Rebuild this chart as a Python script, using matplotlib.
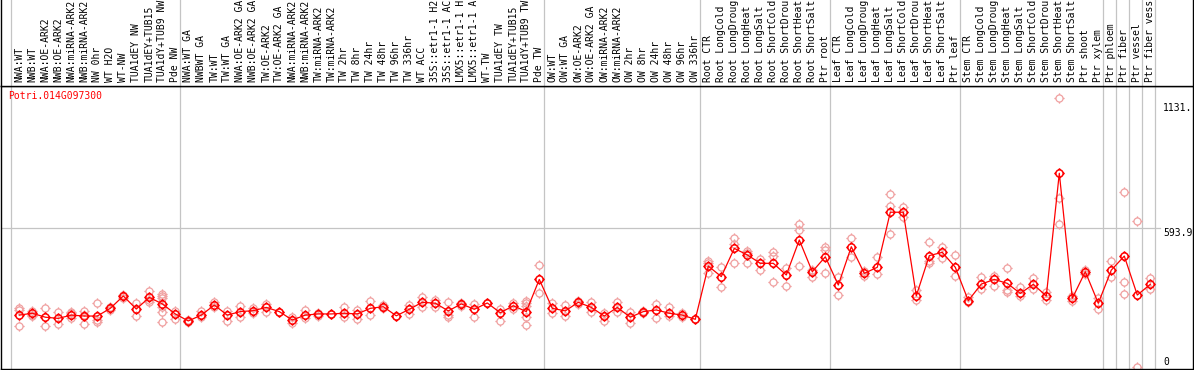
import matplotlib
matplotlib.use("Agg")
import matplotlib.pyplot as plt
from matplotlib.path import Path
import numpy as np

gene = "Potri.014G097300"

# sample names as shown (the source chart cuts them at 14 characters)
samples = [
    "NWA:WT", "NWB:WT", "NWA:OE-ARK2", "NWB:OE-ARK2", "NWA:miRNA-ARK2",
    "NWB:miRNA-ARK2", "NW 0hr", "WT H2O", "WT-NW", "TUA1dEY NW",
    "TUA1dEY+TUB15", "TUA1dY+TUB9 NW", "Pde NW",
    "NWA:WT GA", "NWBWT GA", "TW:WT", "TW:WT GA", "NWA:OE-ARK2 GA",
    "NWB:OE-ARK2 GA", "TW:OE-ARK2", "TW:OE-ARK2 GA", "NWA:miRNA-ARK2",
    "NWB:miRNA-ARK2", "TW:miRNA-ARK2", "TW:miRNA-ARK2", "TW 2hr", "TW 8hr",
    "TW 24hr", "TW 48hr", "TW 96hr", "TW 336hr", "WT ACC", "35S::etr1-1 H2",
    "35S::etr1-1 AC", "LMX5::etr1-1 H", "LMX5::etr1-1 A", "WT-TW",
    "TUA1dEY TW", "TUA1dEY+TUB15", "TUA1dY+TUB9 TW", "Pde TW",
    "OW:WT", "OW:WT GA", "OW:OE-ARK2", "OW:OE-ARK2 GA", "OW:miRNA-ARK2",
    "OW:miRNA-ARK2", "OW 2hr", "OW 8hr", "OW 24hr", "OW 48hr", "OW 96hr",
    "OW 336hr",
    "Root CTR", "Root LongCold", "Root LongDroug", "Root LongHeat",
    "Root LongSalt", "Root ShortCold", "Root ShortDrou", "Root ShortHeat",
    "Root ShortSalt", "Ptr root",
    "Leaf CTR", "Leaf LongCold", "Leaf LongDroug", "Leaf LongHeat",
    "Leaf LongSalt", "Leaf ShortCold", "Leaf ShortDrou", "Leaf ShortHeat",
    "Leaf ShortSalt", "Ptr leaf",
    "Stem CTR", "Stem LongCold", "Stem LongDroug", "Stem LongHeat",
    "Stem LongSalt", "Stem ShortCold", "Stem ShortDrou", "Stem ShortHeat",
    "Stem ShortSalt", "Ptr shoot", "Ptr xylem", "Ptr phloem", "Ptr fiber",
    "Ptr vessel", "Ptr fiber vess",
]

# index of first sample of each block (grey separators)
group_starts = [0, 13, 41, 53, 63, 73, 84, 85, 86, 87, 88]

means = [
    222, 230, 213, 208, 222, 218, 218, 251, 304, 248, 298, 270, 227,
    197, 222, 265, 222, 237, 241, 255, 237, 201, 222, 227, 227, 230, 227,
    251, 258, 219, 247, 277, 273, 240, 270, 247, 274, 232, 262, 237, 375,
    251, 240, 277, 255, 218, 255, 213, 237, 244, 230, 222, 204,
    432, 387, 508, 480, 444, 444, 394, 544, 408, 472,
    351, 515, 401, 427, 663, 663, 305, 477, 491, 427,
    284, 355, 375, 358, 315, 354, 304, 830, 294, 408,
    273, 415, 475, 308, 354,
]

replicates = [
    [254, 244, 175], [241, 222, 218], [253, 174], [234, 183], [237, 230, 208],
    [241, 222, 183], [275, 201, 194], [255, 244], [310, 297], [273, 219],
    [325, 287, 277], [312, 304, 294, 258, 237, 191], [241, 204],
    [201, 193], [241, 213], [279, 255], [241, 198], [262, 215], [251, 230],
    [270, 237], [237], [213, 187], [244, 211], [232, 218], [227], [255, 215],
    [244, 204], [282, 222], [265, 251], [219], [265, 227], [301, 258],
    [287, 258], [277, 222, 213], [275, 261], [270, 213], [274], [247, 198],
    [273, 247], [284, 273, 262, 213, 180], [437, 315],
    [273, 232], [265, 218], [284, 270], [277, 237], [230, 198], [279, 237],
    [234, 189], [241, 230], [270, 208], [255, 218], [232, 215], [204],
    [455, 447, 401], [429, 341], [554, 527, 444], [498, 487, 447], [461, 415],
    [494, 477, 363], [425, 348], [611, 587, 432], [415, 387], [513, 501, 401],
    [387, 308], [554, 472], [412, 390], [472, 398], [740, 690, 570],
    [687, 644], [330, 287], [534, 444, 453], [515, 465], [480, 391],
    [301, 279], [384, 333], [391, 348], [423, 330, 322], [344, 304],
    [380, 333], [287, 321], [1151, 723, 611], [304, 284], [415, 398],
    [294, 247], [454, 384], [748, 363, 312], [625, 0], [380, 333],
]

ytick_vals = [0, 593.9, 1131]
ytick_text = ["0", "593.9", "1131."]

W, H = 1194, 370
fig = plt.figure(figsize=(W / 100, H / 100), dpi=100)
mono = "DejaVu Sans Mono"
fs = 7.0

left = 1 / W
width = 1192 / W
ax = fig.add_axes([left, 1 / H, width, 283 / H])
lab = fig.add_axes([left, 284 / H, width, 86 / H], sharex=ax)

x = np.arange(len(samples))
ax.set_xlim((1 - 19.3) / 13, (1193 - 19.3) / 13)
ax.set_ylim(-9, 1204)

# marker: ring with four small ticks
ring = Path.make_compound_path(
    Path.unit_circle(),
    *[Path([(dx, dy), (1.45 * dx, 1.45 * dy)], [Path.MOVETO, Path.LINETO])
      for dx, dy in [(1, 0), (-1, 0), (0, 1), (0, -1)]]
)

sep = [g - 0.65 for g in group_starts]
for a in (ax, lab):
    for s in sep:
        a.axvline(s, color="#c4c4c4", lw=0.9, zorder=0)
    a.set_xticks([])
    a.set_yticks([])
    for sp in a.spines.values():
        sp.set_color("black")
        sp.set_linewidth(1.0)
lab.spines["top"].set_visible(False)
lab.set_ylim(0, 86)

ax.axhline(593.9, xmin=0, xmax=0.972, color="#c4c4c4", lw=0.9, zorder=0)

for i, reps in enumerate(replicates):
    ax.plot([i] * len(reps), reps, linestyle="none", marker=ring, ms=7.4,
            mfc="none", mec="#f0a0a0", mew=0.9, zorder=2)

ax.plot(x, means, color="#ff0000", lw=0.9, zorder=3)
ax.plot(x, means, linestyle="none", marker=ring, ms=7.6, mfc="none",
        mec="#ff0000", mew=1.1, zorder=4)

for i, name in enumerate(samples):
    lab.text(i, 3.5, name, rotation=90, ha="center", va="bottom",
             family=mono, fontsize=fs, color="black")

ax.text(7 / 1192, 1 - 5 / 283, gene, transform=ax.transAxes, color="#ff0000",
        family=mono, fontsize=fs, ha="left", va="top")

yt = ax.get_yaxis_transform()
for v, t in zip(ytick_vals, ytick_text):
    ax.text(0.9748, v, t, transform=yt, family=mono, fontsize=fs,
            ha="left", va="bottom" if v == 0 else "top", color="black")

fig.savefig("out.png", dpi=100)
